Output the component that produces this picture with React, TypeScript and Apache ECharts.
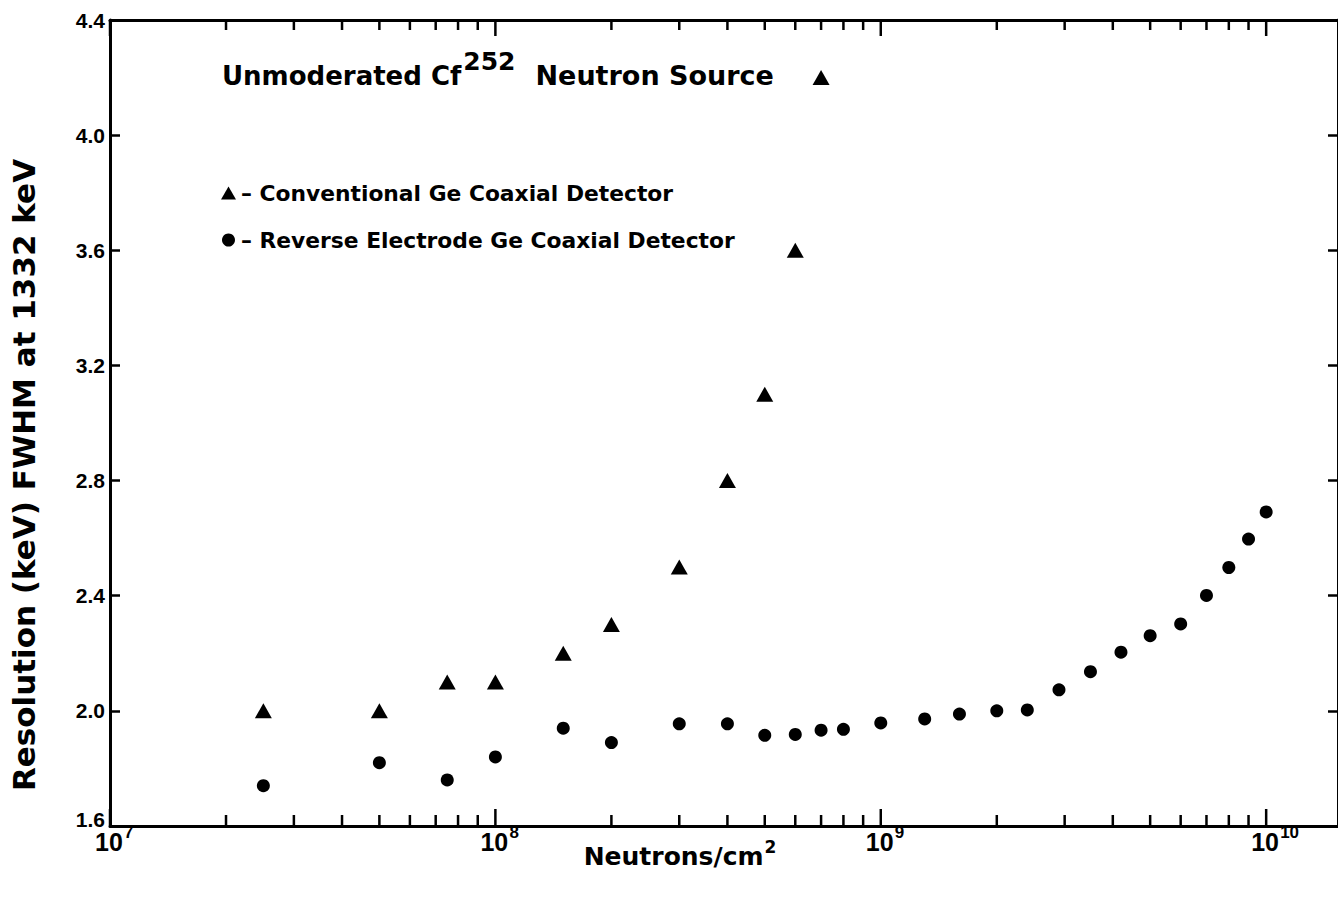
import React, { useEffect, useRef } from "react";
import * as echarts from "echarts";

// ---- data ----
const conventionalX = [2.5e7, 5e7, 7.5e7, 1e8, 1.5e8, 2e8, 3e8, 4e8, 5e8, 6e8, 7e8];
const conventionalY = [2.0, 2.0, 2.1, 2.1, 2.2, 2.3, 2.5, 2.8, 3.1, 3.6, 4.2];

const reverseX = [
  2.5e7, 5e7, 7.5e7, 1e8, 1.5e8, 2e8, 3e8, 4e8, 5e8, 6e8, 7e8, 8e8, 1e9, 1.3e9, 1.6e9,
  2e9, 2.4e9, 2.9e9, 3.5e9, 4.2e9, 5e9, 6e9, 7e9, 8e9, 9e9, 1e10,
];
const reverseY = [
  1.74, 1.82, 1.76, 1.84, 1.94, 1.89, 1.955, 1.955, 1.915, 1.918, 1.933, 1.936, 1.958, 1.972, 1.989,
  2.0, 2.003, 2.073, 2.136, 2.204, 2.261, 2.302, 2.401, 2.498, 2.597, 2.691,
];

// x-axis decade ticks and their labels (10^n)
const decadeTicks = [1e7, 1e8, 1e9, 1e10];
const decadeExponents = ["7", "8", "9", "10"];
const minorTicks = [
  2e7, 3e7, 4e7, 5e7, 6e7, 7e7, 8e7, 9e7,
  2e8, 3e8, 4e8, 5e8, 6e8, 7e8, 8e8, 9e8,
  2e9, 3e9, 4e9, 5e9, 6e9, 7e9, 8e9, 9e9,
];

const X_MIN = 1e7;
const X_MAX = 1.536e10;
const Y_MIN = 1.6;
const Y_MAX = 4.4;
const Y_STEP = 0.4;

const seriesConventional = "Conventional Ge Coaxial Detector";
const seriesReverse = "Reverse Electrode Ge Coaxial Detector";
const titleMain1 = "Unmoderated Cf";
const titleSup = "252";
const titleMain2 = "Neutron Source";
const xName = "Neutrons/cm";
const xNameSup = "2";
const yName = "Resolution (keV) FWHM at 1332 keV";

const WIDE = "'DejaVu Sans', 'Liberation Sans', sans-serif";
const HELV = "'Liberation Sans', Arial, sans-serif";

export default function App() {
  const ref = useRef<HTMLDivElement>(null);

  useEffect(() => {
    if (!ref.current) return;
    const chart = echarts.init(ref.current, undefined, { renderer: "svg" });

    // [value, y anchor, isDecade, label index]
    const tickData = [
      ...minorTicks.map((v) => [v, Y_MIN, 0, -1]),
      ...decadeTicks.map((v, i) => [v, Y_MIN, 1, i]),
    ];

    const option: any = {
      animation: false,
      backgroundColor: "#ffffff",
      title: {
        left: 222,
        top: 49,
        padding: 0,
        text: `{a|${titleMain1}}{s|${titleSup}}{c|${titleMain2}}`,
        textStyle: {
          rich: {
            a: { fontFamily: WIDE, fontWeight: "bold", fontSize: 26, color: "#000" },
            s: { fontFamily: WIDE, fontWeight: "bold", fontSize: 25, color: "#000", padding: [0, 20, 28, 2] },
            c: { fontFamily: WIDE, fontWeight: "bold", fontSize: 27, color: "#000" },
          },
        },
      },
      legend: {
        data: [
          { name: seriesConventional, icon: "triangle" },
          { name: seriesReverse, icon: "circle" },
        ],
        orient: "vertical",
        left: 221,
        top: 181,
        padding: 0,
        itemWidth: 15,
        itemHeight: 13,
        itemGap: 23,
        formatter: (name: string) => "– " + name,
        textStyle: { fontFamily: WIDE, fontWeight: "bold", fontSize: 21.8, color: "#000", lineHeight: 24 },
        selectedMode: false,
      },
      grid: { left: 110, top: 20, width: 1230, height: 806, containLabel: false },
      xAxis: [
        {
          type: "log",
          logBase: 10,
          min: X_MIN,
          max: X_MAX,
          position: "bottom",
          axisLine: { show: true, lineStyle: { color: "#000", width: 3 } },
          axisTick: { show: false },
          splitLine: { show: false },
          axisLabel: { show: false },
          name: `{n|${xName}}{s|${xNameSup}}`,
          nameLocation: "middle",
          nameGap: 12,
          nameMoveOverlap: false,
          nameTextStyle: {
            padding: [0, 88, 0, 0],
            rich: {
              n: { fontFamily: WIDE, fontWeight: "bold", fontSize: 25, color: "#000" },
              s: { fontFamily: WIDE, fontWeight: "bold", fontSize: 17, color: "#000", padding: [0, 0, 20, 1] },
            },
          },
        },
        {
          type: "log",
          logBase: 10,
          min: X_MIN,
          max: X_MAX,
          position: "top",
          axisLine: { show: true, lineStyle: { color: "#000", width: 3 } },
          axisTick: { show: false },
          axisLabel: { show: false },
          splitLine: { show: false },
        },
      ],
      yAxis: [
        {
          type: "value",
          min: Y_MIN,
          max: Y_MAX,
          interval: Y_STEP,
          position: "left",
          axisLine: { show: true, lineStyle: { color: "#000", width: 3 } },
          axisTick: { show: true, inside: true, length: 10, lineStyle: { color: "#000", width: 2.5 } },
          splitLine: { show: false },
          axisLabel: {
            margin: 5,
            hideOverlap: false,
            fontFamily: HELV,
            fontWeight: "bold",
            fontSize: 21,
            color: "#000",
            formatter: (v: number) => (Math.abs(v - Y_MIN) < 1e-9 ? `{lo|${v.toFixed(1)}}` : v.toFixed(1)),
            rich: {
              lo: { fontFamily: HELV, fontWeight: "bold", fontSize: 21, color: "#000", padding: [0, 0, 14, 0] },
            },
          },
          name: yName,
          nameLocation: "middle",
          nameRotate: 90,
          nameGap: 71,
          nameMoveOverlap: false,
          nameTextStyle: {
            fontFamily: WIDE,
            fontWeight: "bold",
            fontSize: 31,
            color: "#000",
            padding: [0, 104, 0, 0],
          },
        },
        {
          type: "value",
          min: Y_MIN,
          max: Y_MAX,
          interval: Y_STEP,
          position: "right",
          axisLine: { show: true, lineStyle: { color: "#000", width: 3 } },
          axisTick: { show: true, inside: true, length: 10, lineStyle: { color: "#000", width: 2.5 } },
          axisLabel: { show: false },
          splitLine: { show: false },
        },
      ],
      series: [
        {
          name: seriesConventional,
          type: "scatter",
          symbol: "triangle",
          symbolSize: [17, 15],
          itemStyle: { color: "#000", opacity: 1 },
          data: conventionalX.map((x, i) => [x, conventionalY[i]]),
        },
        {
          name: seriesReverse,
          type: "scatter",
          symbol: "circle",
          symbolSize: 13,
          itemStyle: { color: "#000", opacity: 1 },
          data: reverseX.map((x, i) => [x, reverseY[i]]),
        },
        {
          name: "ticks",
          type: "custom",
          silent: true,
          clip: false,
          encode: { x: 0, y: 1 },
          data: tickData,
          renderItem: (params: any, api: any) => {
            const v = api.value(0);
            const major = api.value(2) === 1;
            const li = api.value(3);
            const pb = api.coord([v, Y_MIN]);
            const pt = api.coord([v, Y_MAX]);
            const lb = major ? 17 : 11;
            const lt = major ? 16 : 10;
            const st = { stroke: "#000", lineWidth: 2.5 };
            const children: any[] = [
              { type: "line", shape: { x1: pb[0], y1: pb[1], x2: pb[0], y2: pb[1] - lb }, style: st },
              { type: "line", shape: { x1: pt[0], y1: pt[1], x2: pt[0], y2: pt[1] + lt }, style: st },
            ];
            if (major && li >= 0) {
              children.push({
                type: "text",
                x: pb[0] - 15,
                y: pb[1] + 16,
                style: {
                  text: "10",
                  font: "bold 25px 'Liberation Sans', Arial, sans-serif",
                  fill: "#000",
                  align: "left",
                  verticalAlign: "middle",
                },
              });
              children.push({
                type: "text",
                x: pb[0] + 14,
                y: pb[1] + 6,
                style: {
                  text: decadeExponents[li],
                  font: "bold 17px 'Liberation Sans', Arial, sans-serif",
                  fill: "#000",
                  align: "left",
                  verticalAlign: "middle",
                },
              });
            }
            return { type: "group", children };
          },
        },
      ],
    };

    chart.setOption(option);
    return () => chart.dispose();
  }, []);

  return (
    <div
      ref={ref}
      style={{ position: "fixed", left: 0, top: 0, width: 1338, height: 898, background: "#fff" }}
    />
  );
}
